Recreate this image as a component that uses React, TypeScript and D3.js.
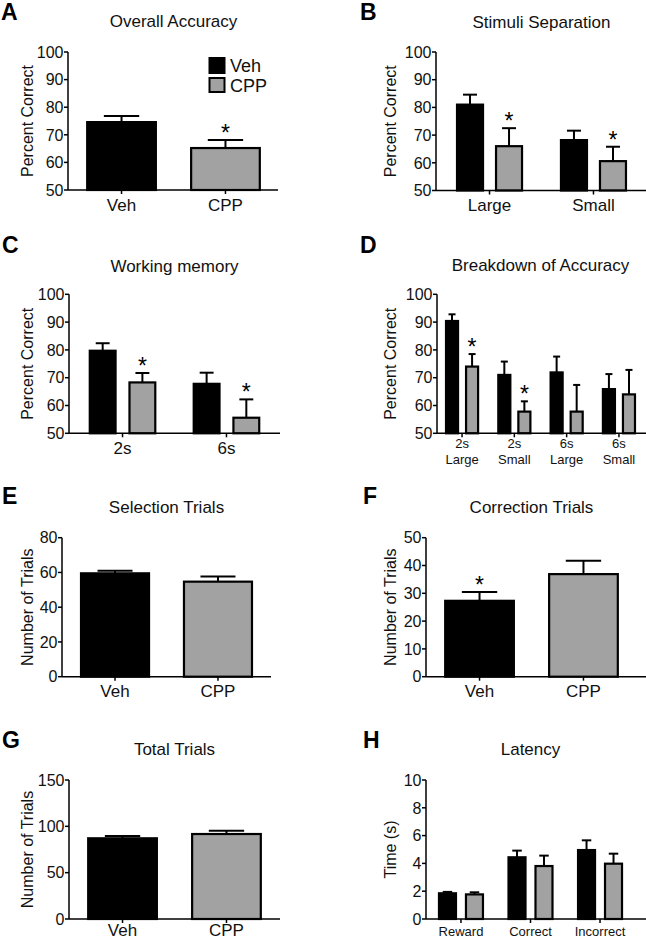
import React from "react";
import * as d3 from "d3";

const FONT = "'Liberation Sans', Arial, Helvetica, sans-serif";
const BLACK = "#000000";
const GRAY = "#a2a2a2";
const TREATMENTS = ["Veh", "CPP"];

// A — Overall Accuracy
const overallCats = ["Veh", "CPP"];
const overallMean = [74.6, 65.2];
const overallSem = [2.2, 2.9];
const overallSig = [false, true];

// B — Stimuli Separation
const sepCats = ["Large", "Small"];
const sepVehMean = [81.0, 68.2];
const sepVehSem = [3.6, 3.4];
const sepCppMean = [66.0, 60.6];
const sepCppSem = [6.5, 5.2];
const sepCppSig = [true, true];

// C — Working memory
const wmCats = ["2s", "6s"];
const wmVehMean = [79.7, 67.8];
const wmVehSem = [2.7, 4.0];
const wmCppMean = [68.3, 55.6];
const wmCppSem = [3.4, 6.6];
const wmCppSig = [true, true];

// D — Breakdown of Accuracy
const bdCats = [["2s", "Large"], ["2s", "Small"], ["6s", "Large"], ["6s", "Small"]];
const bdVehMean = [90.4, 71.0, 71.9, 65.9];
const bdVehSem = [2.4, 4.8, 5.7, 5.4];
const bdCppMean = [74.0, 57.8, 57.8, 64.0];
const bdCppSem = [4.5, 3.7, 9.6, 8.8];
const bdCppSig = [true, true, false, false];

// E — Selection Trials
const selMean = [59.5, 54.7];
const selSem = [1.5, 2.9];

// F — Correction Trials
const corMean = [27.3, 36.9];
const corSem = [3.2, 4.8];
const corSig = [true, false];

// G — Total Trials
const totMean = [87.1, 91.7];
const totSem = [2.5, 3.6];

// H — Latency
const latCats = ["Reward", "Correct", "Incorrect"];
const latVehMean = [1.85, 4.44, 4.96];
const latVehSem = [0.1, 0.48, 0.7];
const latCppMean = [1.77, 3.81, 3.98];
const latCppSem = [0.15, 0.75, 0.72];

// tick values
const accTicks = [50, 60, 70, 80, 90, 100];
const selTicks = [0, 20, 40, 60, 80];
const corTicks = [0, 10, 20, 30, 40, 50];
const totTicks = [0, 50, 100, 150];
const latTicks = [0, 2, 4, 6, 8, 10];

type Series = { color: string; mean: number[]; sem: number[]; sig?: boolean[] };

type PanelCfg = {
  letter: string;
  letterX: number;
  letterY: number;
  title: string;
  titleY: number;
  yLabel: string;
  yLabelX: number;
  axisX: number;
  plotEnd: number;
  axisEnd: number;
  yTop: number;
  yBottom: number;
  domain: [number, number];
  ticks: number[];
  cats: (string | string[])[];
  grouped: boolean;
  series: Series[];
  catColors?: string[];
  outerPI: number;
  outerPO: number;
  innerPI?: number;
  innerPO?: number;
  catFont: number;
  catDy: number;
  catLine?: number;
  legend?: boolean;
};

function Panel({ c }: { c: PanelCfg }) {
  const y = d3.scaleLinear().domain(c.domain).range([c.yBottom, c.yTop]);
  const catKeys = c.cats.map((d, i) => String(i));
  const x = d3
    .scaleBand<string>()
    .domain(catKeys)
    .range([c.axisX, c.plotEnd])
    .paddingInner(c.outerPI)
    .paddingOuter(c.outerPO);
  const inner = d3
    .scaleBand<string>()
    .domain(TREATMENTS)
    .range([0, x.bandwidth()])
    .paddingInner(c.innerPI ?? 0)
    .paddingOuter(c.innerPO ?? 0);

  type Bar = { x: number; w: number; v: number; e: number; color: string; sig: boolean };
  const bars: Bar[] = [];
  catKeys.forEach((k, i) => {
    if (c.grouped) {
      c.series.forEach((s, j) => {
        bars.push({
          x: (x(k) as number) + (inner(TREATMENTS[j]) as number),
          w: inner.bandwidth(),
          v: s.mean[i],
          e: s.sem[i],
          color: s.color,
          sig: s.sig ? s.sig[i] : false,
        });
      });
    } else {
      const s = c.series[0];
      bars.push({
        x: x(k) as number,
        w: x.bandwidth(),
        v: s.mean[i],
        e: s.sem[i],
        color: (c.catColors as string[])[i],
        sig: s.sig ? s.sig[i] : false,
      });
    }
  });

  const midY = (c.yTop + c.yBottom) / 2;
  return (
    <g fontFamily={FONT} fill="#111">
      <text x={c.letterX} y={c.letterY} fontSize={23} fontWeight="bold" fill="#000">
        {c.letter}
      </text>
      <text x={(c.axisX + c.plotEnd) / 2} y={c.titleY} fontSize={17} textAnchor="middle">
        {c.title}
      </text>
      <text
        transform={`translate(${c.yLabelX},${midY}) rotate(-90)`}
        fontSize={16}
        textAnchor="middle"
      >
        {c.yLabel}
      </text>
      {bars.map((b, i) => {
        const top = y(b.v);
        const et = y(b.v + b.e);
        const cx = b.x + b.w / 2;
        return (
          <g key={i}>
            <line x1={cx} x2={cx} y1={top} y2={et} stroke="#000" strokeWidth={2} />
            <line x1={cx - b.w / 4} x2={cx + b.w / 4} y1={et} y2={et} stroke="#000" strokeWidth={2} />
            <rect
              x={b.x + 1}
              y={top}
              width={b.w - 2}
              height={c.yBottom - top}
              fill={b.color}
              stroke="#000"
              strokeWidth={2.2}
            />
            {b.sig && (
              <text x={cx} y={et + 1} fontSize={23} textAnchor="middle" fill="#000">
                *
              </text>
            )}
          </g>
        );
      })}
      <line x1={c.axisX} x2={c.axisX} y1={c.yTop} y2={c.yBottom} stroke="#000" strokeWidth={1.5} />
      {c.ticks.map((t) => (
        <g key={t}>
          <line x1={c.axisX - 4} x2={c.axisX} y1={y(t)} y2={y(t)} stroke="#000" strokeWidth={1.5} />
          <text x={c.axisX - 4.5} y={y(t)} dy="0.36em" fontSize={16} textAnchor="end">
            {t}
          </text>
        </g>
      ))}
      <line x1={c.axisX} x2={c.axisEnd} y1={c.yBottom} y2={c.yBottom} stroke="#000" strokeWidth={1.5} />
      {catKeys.map((k, i) => {
        const cx = (x(k) as number) + x.bandwidth() / 2;
        const lab = c.cats[i];
        const lines = Array.isArray(lab) ? lab : [lab];
        return (
          <g key={k}>
            <line x1={cx} x2={cx} y1={c.yBottom} y2={c.yBottom + 4} stroke="#000" strokeWidth={1.5} />
            {lines.map((l, li) => (
              <text
                key={li}
                x={cx}
                y={c.yBottom + c.catDy + li * (c.catLine ?? 15)}
                fontSize={c.catFont}
                textAnchor="middle"
              >
                {l}
              </text>
            ))}
          </g>
        );
      })}
      {c.legend && (
        <g>
          <rect x={209.5} y={58} width={15} height={15} fill={BLACK} stroke="#000" strokeWidth={2} />
          <rect x={209.5} y={78} width={15} height={14} fill={GRAY} stroke="#000" strokeWidth={2} />
          <text x={230} y={71.5} fontSize={18}>
            {TREATMENTS[0]}
          </text>
          <text x={230} y={91.5} fontSize={18}>
            {TREATMENTS[1]}
          </text>
        </g>
      )}
    </g>
  );
}

const single = { outerPI: 0.32, outerPO: 0.175, grouped: false, catColors: [BLACK, GRAY], catFont: 17, catDy: 20.5 };

const panels: PanelCfg[] = [
  {
    ...single,
    letter: "A", letterX: 1, letterY: 20, title: "Overall Accuracy", titleY: 27,
    yLabel: "Percent Correct", yLabelX: 33, axisX: 68, plotEnd: 279, axisEnd: 278,
    yTop: 52, yBottom: 190, domain: [50, 100], ticks: accTicks, cats: overallCats,
    series: [{ color: BLACK, mean: overallMean, sem: overallSem, sig: overallSig }],
    legend: true,
  },
  {
    letter: "B", letterX: 360, letterY: 20, title: "Stimuli Separation", titleY: 28,
    yLabel: "Percent Correct", yLabelX: 396, axisX: 436, plotEnd: 647, axisEnd: 646,
    yTop: 52, yBottom: 190.5, domain: [50, 100], ticks: accTicks, cats: sepCats,
    grouped: true, outerPI: 0.32, outerPO: 0.175, innerPI: 0.282, innerPO: 0.047,
    catFont: 17, catDy: 20.5,
    series: [
      { color: BLACK, mean: sepVehMean, sem: sepVehSem },
      { color: GRAY, mean: sepCppMean, sem: sepCppSem, sig: sepCppSig },
    ],
  },
  {
    letter: "C", letterX: 2, letterY: 253, title: "Working memory", titleY: 272,
    yLabel: "Percent Correct", yLabelX: 33, axisX: 69, plotEnd: 280, axisEnd: 280,
    yTop: 294.3, yBottom: 433.3, domain: [50, 100], ticks: accTicks, cats: wmCats,
    grouped: true, outerPI: 0.32, outerPO: 0.175, innerPI: 0.3, innerPO: 0.04,
    catFont: 17, catDy: 20.5,
    series: [
      { color: BLACK, mean: wmVehMean, sem: wmVehSem },
      { color: GRAY, mean: wmCppMean, sem: wmCppSem, sig: wmCppSig },
    ],
  },
  {
    letter: "D", letterX: 360, letterY: 253, title: "Breakdown of Accuracy", titleY: 271,
    yLabel: "Percent Correct", yLabelX: 396, axisX: 437, plotEnd: 644, axisEnd: 646,
    yTop: 294.3, yBottom: 433.3, domain: [50, 100], ticks: accTicks, cats: bdCats,
    grouped: true, outerPI: 0.31, outerPO: 0.134, innerPI: 0.3, innerPO: 0.05,
    catFont: 13, catDy: 15, catLine: 15.5,
    series: [
      { color: BLACK, mean: bdVehMean, sem: bdVehSem },
      { color: GRAY, mean: bdCppMean, sem: bdCppSem, sig: bdCppSig },
    ],
  },
  {
    ...single,
    letter: "E", letterX: 2, letterY: 504, title: "Selection Trials", titleY: 513,
    yLabel: "Number of Trials", yLabelX: 33, axisX: 62, plotEnd: 271, axisEnd: 271,
    yTop: 537.7, yBottom: 676.7, domain: [0, 80], ticks: selTicks, cats: overallCats,
    series: [{ color: BLACK, mean: selMean, sem: selSem }],
  },
  {
    ...single,
    letter: "F", letterX: 363, letterY: 504, title: "Correction Trials", titleY: 513,
    yLabel: "Number of Trials", yLabelX: 396, axisX: 426, plotEnd: 637, axisEnd: 646,
    yTop: 537.7, yBottom: 676.7, domain: [0, 50], ticks: corTicks, cats: overallCats,
    series: [{ color: BLACK, mean: corMean, sem: corSem, sig: corSig }],
  },
  {
    ...single,
    letter: "G", letterX: 2, letterY: 748, title: "Total Trials", titleY: 755,
    yLabel: "Number of Trials", yLabelX: 33, axisX: 69, plotEnd: 280, axisEnd: 280,
    yTop: 780, yBottom: 919, domain: [0, 150], ticks: totTicks, cats: overallCats,
    series: [{ color: BLACK, mean: totMean, sem: totSem }],
    catDy: 17,
  },
  {
    letter: "H", letterX: 363, letterY: 748, title: "Latency", titleY: 755,
    yLabel: "Time (s)", yLabelX: 396, axisX: 426, plotEnd: 635, axisEnd: 646,
    yTop: 780, yBottom: 919, domain: [0, 10], ticks: latTicks, cats: latCats,
    grouped: true, outerPI: 0.31, outerPO: 0.158, innerPI: 0.296, innerPO: 0.037,
    catFont: 13, catDy: 16.5,
    series: [
      { color: BLACK, mean: latVehMean, sem: latVehSem },
      { color: GRAY, mean: latCppMean, sem: latCppSem },
    ],
  },
];

export default function App() {
  return (
    <svg
      width={646}
      height={940}
      viewBox="0 0 646 940"
      style={{ position: "absolute", left: 0, top: 0, background: "#fff" }}
    >
      <rect width={646} height={940} fill="#fff" />
      {panels.map((p) => (
        <Panel key={p.letter} c={p} />
      ))}
    </svg>
  );
}
